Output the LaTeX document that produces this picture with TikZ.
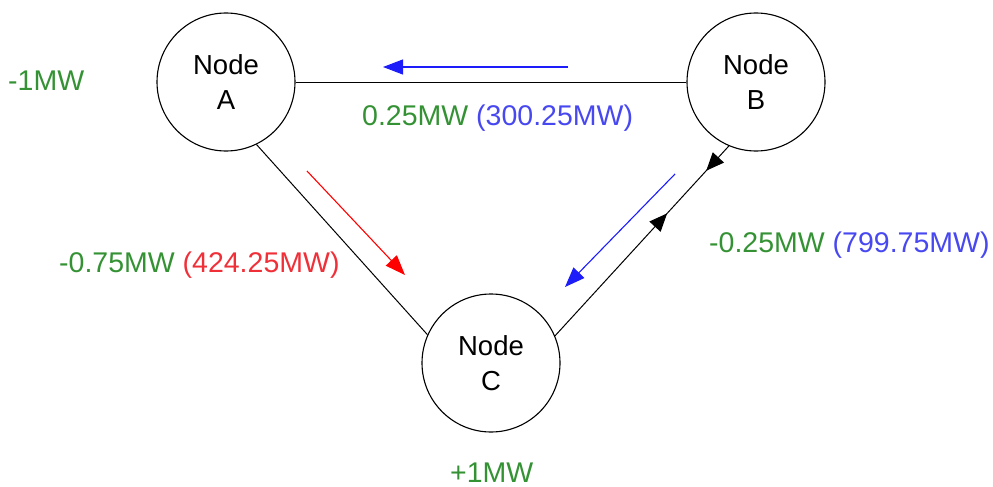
\documentclass[tikz,border=0pt]{standalone}
\usepackage{fontspec}
\setmainfont{Liberation Sans}
\usetikzlibrary{arrows.meta,decorations.markings}
\definecolor{mwgreen}{RGB}{52,146,52}
\definecolor{mwblue}{RGB}{72,72,240}
\definecolor{mwred}{RGB}{240,48,56}
\begin{document}
\begin{tikzpicture}[x=1pt,y=-1pt,
  bus/.style={draw=black,line width=1.1pt,circle,minimum size=138pt,inner sep=0pt,
    align=center,font=\fontsize{27.5}{35}\selectfont},
  line/.style={draw=black,line width=1pt},
  lbl/.style={inner sep=0pt,anchor=base west,font=\fontsize{28.5}{33}\selectfont},
  flow/.style={line width=1.1pt,-{Triangle[length=20pt,width=15pt]}}
]
\useasboundingbox (0,0) rectangle (993,487);
\node[bus] (A) at (226,82) {Node\\A};
\node[bus] (B) at (756,82) {Node\\B};
\node[bus] (C) at (491,363) {Node\\C};

\draw[line] (A.east) -- (B.west);
\draw[line] (A.-64) -- (C.156);
\draw[line,postaction={decorate},decoration={markings,
   mark=at position 0.13 with {\arrow{Triangle[length=18pt,width=15pt]}},
   mark=at position 0.355 with {\arrowreversed{Triangle[length=18pt,width=15pt]}}}]
   (B.-113) -- (C.23.5);

\coordinate (ab1) at (568,67);
\coordinate (ab2) at (383,67);
\draw[flow,mwblue!40!blue] (ab1) -- (ab2);
\coordinate (ac1) at (307,171);
\coordinate (ac2) at (405,275);
\draw[flow,red] (ac1) -- (ac2);
\coordinate (bc1) at (675,174);
\coordinate (bc2) at (565,287);
\draw[flow,mwblue!40!blue] (bc1) -- (bc2);

\node[lbl,text=mwgreen] (la) at (8,91) {-1MW};
\node[lbl] (lab) at (362,125) {\textcolor{mwgreen}{0.25MW} \textcolor{mwblue}{(300.25MW)}};
\node[lbl] (lac) at (59,272) {\textcolor{mwgreen}{-0.75MW} \textcolor{mwred}{(424.25MW)}};
\node[lbl] (lbc) at (709,252) {\textcolor{mwgreen}{-0.25MW} \textcolor{mwblue}{(799.75MW)}};
\node[lbl,text=mwgreen] (lc) at (450,482) {+1MW};
\end{tikzpicture}
\end{document}
